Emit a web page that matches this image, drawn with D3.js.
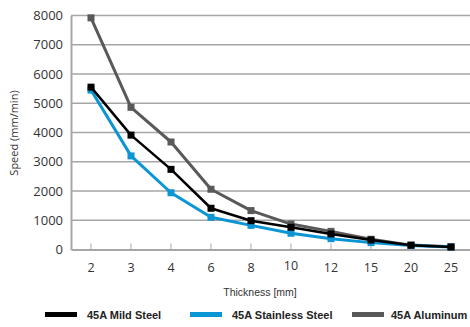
<!DOCTYPE html>
<meta charset="utf-8">
<style>
  body { margin: 0; background: #fff; }
  .tick text { font-family: "Open Sans", "Noto Sans", sans-serif; fill: #333; }
  .legend text { font-family: "Liberation Sans Narrow", "Liberation Sans", sans-serif; font-weight: bold; font-size: 11px; fill: #222; }
</style>
<body>
<script src="https://cdn.jsdelivr.net/npm/d3@7"></script>
<script>

var width = 470,
    height = 327;

// thickness categories (mm)
var thickness = ["2", "3", "4", "6", "8", "10", "12", "15", "20", "25"];
var yTicks = [0, 1000, 2000, 3000, 4000, 5000, 6000, 7000, 8000];

// speed mm/min
var mildSteel = [5550, 3910, 2740, 1410, 985, 760, 530, 325, 145, 85];
var stainless = [5450, 3200, 1940, 1100, 825, 555, 370, 235, 140, 85];
var aluminum  = [7920, 4860, 3675, 2060, 1330, 870, 620, 350, 150, 90];

var series = [
  {name: "45A Aluminum", values: aluminum, color: "#595959", width: 3},
  {name: "45A Stainless Steel", values: stainless, color: "#0a95d5", width: 3},
  {name: "45A Mild Steel", values: mildSteel, color: "#000", width: 2.5}
];
var legendOrder = [series[2], series[1], series[0]];

var svg = d3.select("body").append("svg")
    .attr("width", width)
    .attr("height", height);

var x = d3.scaleBand().domain(thickness).range([71, 471]);
var y = d3.scaleLinear().domain([0, 8000]).range([249.5, 15.5]);

// grid
svg.append("g")
  .selectAll("line")
  .data(yTicks.slice(1))
  .enter().append("line")
    .attr("x1", 71).attr("x2", width)
    .attr("y1", function(d) { return y(d); })
    .attr("y2", function(d) { return y(d); })
    .attr("stroke", "#a6a6a6")
    .attr("stroke-width", 1.5);

// y axis
var yAxis = svg.append("g")
  .attr("transform", "translate(71,0)")
  .call(d3.axisLeft(y).tickValues(yTicks).tickSize(0).tickPadding(8).tickFormat(d3.format("d")));
yAxis.select(".domain").attr("stroke", "#a6a6a6").attr("stroke-width", 2);
yAxis.selectAll(".tick text").attr("font-size", 13);

// x axis
var xAxis = svg.append("g")
  .attr("transform", "translate(0,249.5)")
  .call(d3.axisBottom(x).tickSizeOuter(0).tickSizeInner(-6).tickPadding(14));
xAxis.select(".domain").attr("stroke", "#a6a6a6").attr("stroke-width", 2);
xAxis.selectAll(".tick line").attr("stroke", "#a6a6a6");
xAxis.selectAll(".tick text").attr("font-size", 12.5);
// the "10" label sits a bit higher in the original
xAxis.selectAll(".tick text").filter(function(d) { return d === "10"; }).attr("dy", "0.55em");

// axis titles
svg.append("text")
  .attr("x", 260).attr("y", 296)
  .attr("text-anchor", "middle")
  .attr("font-family", "Liberation Sans Narrow, Liberation Sans, sans-serif")
  .attr("font-size", 10.5)
  .attr("fill", "#333")
  .text("Thickness [mm]");

svg.append("text")
  .attr("transform", "translate(18,133) rotate(-90)")
  .attr("text-anchor", "middle")
  .attr("font-family", "Open Sans, Noto Sans, sans-serif")
  .attr("font-size", 11)
  .attr("fill", "#333")
  .text("Speed (mm/min)");

// lines
var line = d3.line()
  .x(function(d, i) { return x(thickness[i]) + x.bandwidth() / 2; })
  .y(function(d) { return y(d); });

series.forEach(function(s) {
  svg.append("path")
    .datum(s.values)
    .attr("fill", "none")
    .attr("stroke", s.color)
    .attr("stroke-width", s.width)
    .attr("stroke-linejoin", "round")
    .attr("d", line);
  svg.selectAll(null)
    .data(s.values)
    .enter().append("rect")
      .attr("x", function(d, i) { return x(thickness[i]) + x.bandwidth() / 2 - 3.5; })
      .attr("y", function(d) { return y(d) - 3.5; })
      .attr("width", 7).attr("height", 7)
      .attr("fill", s.color);
});

// legend
var legendX = [45, 190, 352];
var legend = svg.append("g").attr("class", "legend");
legendOrder.forEach(function(s, i) {
  legend.append("rect")
    .attr("x", legendX[i]).attr("y", 312)
    .attr("width", 32).attr("height", 5)
    .attr("fill", s.color);
  legend.append("text")
    .attr("x", legendX[i] + (i === 2 ? 39 : 42)).attr("y", 319)
    .text(s.name);
});

</script>
